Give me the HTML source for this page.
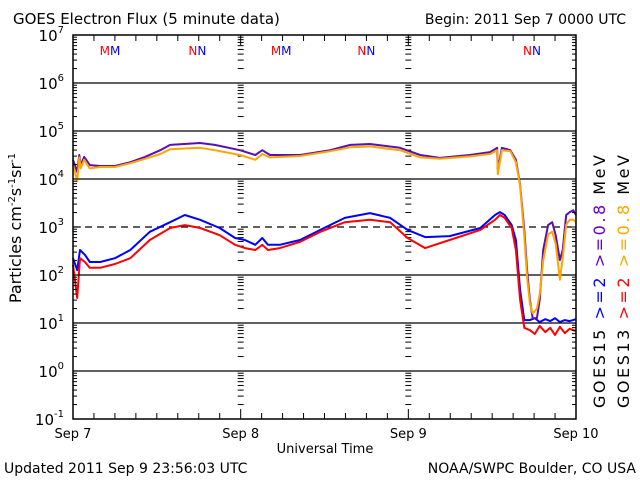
<!DOCTYPE html>
<html><head><meta charset="utf-8"><style>
body{margin:0;background:#fff;}
svg{display:block;font-family:"DejaVu Sans","Liberation Sans",sans-serif;}
</style></head><body>
<svg id="chart" width="640" height="480" viewBox="0 0 640 480">
<text x="13" y="24" font-size="15">GOES Electron Flux (5 minute data)</text>
<text x="626" y="24" font-size="14" text-anchor="end">Begin: 2011 Sep 7 0000 UTC</text>
<text x="4" y="473" font-size="14">Updated 2011 Sep  9 23:56:03 UTC</text>
<text x="636" y="473" font-size="14" text-anchor="end">NOAA/SWPC Boulder, CO USA</text>
<text x="325" y="453" font-size="13" text-anchor="middle">Universal Time</text>
<text transform="translate(21,228) rotate(-90)" font-size="16" text-anchor="middle">Particles cm<tspan font-size="10" dy="-6">-2</tspan><tspan dy="6">s</tspan><tspan font-size="10" dy="-6">-1</tspan><tspan dy="6">sr</tspan><tspan font-size="10" dy="-6">-1</tspan></text>
<g id="grid"></g><g id="series"></g><g id="axes"></g>
<g font-size="16">
<text transform="translate(605,408) rotate(-90)" textLength="253" lengthAdjust="spacing">GOES15   <tspan fill="#0000ff">&gt;=2</tspan>   <tspan fill="#6600cc">&gt;=0.8</tspan>   MeV</text>
<text transform="translate(629,408) rotate(-90)" textLength="253" lengthAdjust="spacing">GOES13   <tspan fill="#ff0000">&gt;=2</tspan>   <tspan fill="#ffa500">&gt;=0.8</tspan>   MeV</text>
</g>
</svg>
<script>
const dayLabels=["Sep 7","Sep 8","Sep 9","Sep 10"];
const decadeExps=[7,6,5,4,3,2,1,0,-1];
const hoursHi=[0,0.6,0.9,1.1,1.6,2.4,3.9,6.0,8.2,10.3,12.5,13.9,18.2,20.3,23.9,26.1,27.1,28.2,32.5,36.8,39.7,42.5,46.8,49.7,52.5,56.8,59.7,60.7,60.8,61.4,62.6,63.4,64.0,64.6,65.0,65.4,65.8,66.4,66.8,67.3,68.0,68.6,69.1,69.7,70.1,70.6,71.1,71.6,72];
const g15Hi=[4.40,4.15,4.50,4.29,4.46,4.29,4.27,4.27,4.35,4.46,4.60,4.71,4.75,4.71,4.60,4.50,4.60,4.50,4.50,4.60,4.71,4.73,4.65,4.50,4.44,4.50,4.56,4.65,4.19,4.65,4.60,4.40,3.88,2.94,2.10,1.48,1.10,1.10,1.48,2.52,3.04,3.10,2.83,2.31,2.52,3.25,3.31,3.35,3.25];
const g13Hi=[4.30,3.95,4.45,4.22,4.40,4.22,4.25,4.25,4.33,4.42,4.52,4.62,4.65,4.60,4.50,4.40,4.52,4.45,4.48,4.58,4.66,4.68,4.60,4.45,4.42,4.47,4.52,4.60,4.10,4.60,4.58,4.35,3.85,2.80,1.95,1.40,1.20,1.30,1.60,2.30,2.85,2.90,2.65,1.90,2.35,3.05,3.15,3.15,3.10];
const hoursLo=[0,0.6,1.0,1.7,2.4,3.9,6.0,8.2,11.0,13.9,16.0,18.2,21.0,23.2,24.6,26.1,27.1,27.9,29.6,32.5,35.4,38.9,42.5,45.4,47.9,50.4,53.9,58.3,60.4,61.1,61.8,62.8,63.4,64.0,64.6,65.4,66.1,66.8,67.6,68.3,69.0,69.7,70.4,71.1,72];
const g15Lo=[2.35,2.10,2.52,2.42,2.27,2.27,2.35,2.52,2.90,3.10,3.25,3.15,2.98,2.77,2.73,2.63,2.77,2.63,2.63,2.73,2.94,3.19,3.29,3.19,2.94,2.79,2.81,2.98,3.25,3.31,3.25,3.04,2.73,1.69,1.06,1.06,1.10,1.02,1.08,1.04,1.10,1.02,1.06,1.04,1.08];
const g13Lo=[2.21,1.52,2.35,2.27,2.15,2.15,2.23,2.35,2.73,2.98,3.04,2.98,2.83,2.63,2.56,2.52,2.63,2.52,2.56,2.69,2.90,3.10,3.15,3.10,2.77,2.56,2.73,2.94,3.15,3.25,3.19,2.98,2.52,1.48,0.90,0.85,0.77,0.94,0.81,0.90,0.75,0.92,0.79,0.88,0.83];
const markerLabels=["MM","NN","MM","NN","NN"];
const markerHours=[5.3,17.8,29.8,42.0,65.7];

const L=73,R=576,T=35,B=419;
const X=h=>L+(R-L)*h/72;
const Y=lg=>T+(7-lg)*(B-T)/8;
const NS="http://www.w3.org/2000/svg";
function mk(tag,attrs,parent){const e=document.createElementNS(NS,tag);for(const k in attrs)e.setAttribute(k,attrs[k]);parent.appendChild(e);return e;}
const grid=document.getElementById('grid'),axes=document.getElementById('axes'),ser=document.getElementById('series');

decadeExps.forEach(ex=>{
  const y=Y(ex);
  if(ex<7&&ex>-1){
    const ln=mk('line',{x1:L,x2:R,y1:y,y2:y,stroke:'#000','stroke-width':1.2},grid);
    if(ex===3)ln.setAttribute('stroke-dasharray','7,5');
    
    
  }
  const t=mk('text',{x:64,y:y+6,'font-size':15,'text-anchor':'end'},axes);
  
  
  t.innerHTML='10<tspan font-size="10" dy="-8">'+ex+'</tspan>';
  mk('line',{x1:L,x2:L+8,y1:y,y2:y,stroke:'#000'},axes);
  mk('line',{x1:R-8,x2:R,y1:y,y2:y,stroke:'#000'},axes);
  if(ex>-1){for(let m=2;m<10;m++){const ym=Y(ex-1+Math.log10(m));
    mk('line',{x1:L,x2:L+4,y1:ym,y2:ym,stroke:'#000'},axes);
    mk('line',{x1:R-4,x2:R,y1:ym,y2:ym,stroke:'#000'},axes);
    [24,48].forEach(h=>mk('line',{x1:X(h)-3,x2:X(h)+3,y1:ym,y2:ym,stroke:'#000'},grid));
  }}
});
for(let h=0;h<=72;h+=3){const x=X(h),maj=h%24===0,len=maj?10:6;
  mk('line',{x1:x,x2:x,y1:B,y2:B-len,stroke:'#000'},axes);
  mk('line',{x1:x,x2:x,y1:T,y2:T+len,stroke:'#000'},axes);}
dayLabels.forEach((d,i)=>{const t=mk('text',{x:X(i*24),y:438,'font-size':13,'text-anchor':'middle'},axes);
  
  t.textContent=d;});
const fr=mk('rect',{x:L,y:T,width:R-L,height:B-T,fill:'none',stroke:'#000','stroke-width':1.5},axes);


markerLabels.forEach((lab,i)=>{const t=mk('text',{x:X(markerHours[i]),y:55,'font-size':12,'text-anchor':'middle'},axes);
  
  
  t.innerHTML='<tspan fill="#ff0000">'+lab[0]+'</tspan><tspan fill="#0000ff">'+lab[1]+'</tspan>';});
function line(hs,vs,color,name){
  const p=mk('polyline',{points:hs.map((h,i)=>X(h).toFixed(1)+','+Y(vs[i]).toFixed(1)).join(' '),fill:'none',stroke:color,'stroke-width':2,'stroke-linejoin':'round'},ser);
  
  
}
line(hoursLo,g15Lo,'#0000ff','series-goes15-2mev');
line(hoursLo,g13Lo,'#ff0000','series-goes13-2mev');
line(hoursHi,g15Hi,'#5a0fb4','series-goes15-0.8mev');
line(hoursHi,g13Hi,'#ffa500','series-goes13-0.8mev');
</script>
</body></html>
